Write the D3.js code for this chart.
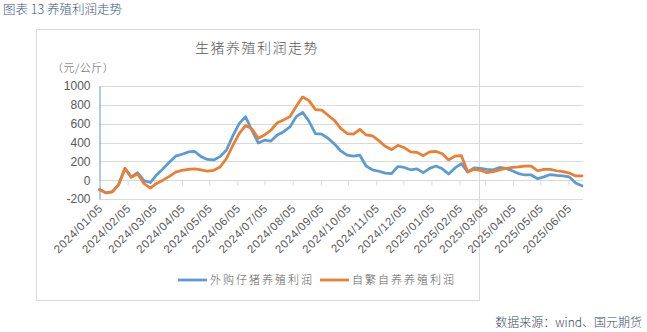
<!DOCTYPE html>
<html>
<head>
<meta charset="utf-8">
<script src="https://cdn.jsdelivr.net/npm/d3@7"></script>
<style>
  html, body { margin: 0; padding: 0; background: #fff; }
  svg { display: block; }
  text { font-family: "Liberation Sans", Arial, "Noto Sans CJK SC", sans-serif; }
  .cjk { font-family: "Noto Sans CJK SC", sans-serif; }
</style>
</head>
<body>
<svg id="chart" width="647" height="332"></svg>
<script>
// Weekly profit series (元/公斤), starting 2024/01/05
const startDate = "2024-01-05";
const purchasedPiglet = [
  -100, -135, -125, -50, 125, 35, 80, -5, -25, 55,
  120, 190, 255, 275, 300, 305, 250, 220, 215, 250,
  320, 470, 600, 675, 530, 395, 425, 415, 480, 515,
  565, 675, 720, 625, 495, 490, 445, 385, 310, 265,
  255, 265, 150, 110, 95, 75, 70, 145, 135, 110,
  120, 80, 125, 150, 120, 65, 130, 175, 85, 130,
  125, 115, 110, 135, 125, 100, 70, 55, 55, 15,
  35, 60, 50, 45, 35, -30, -60
];
const selfBred = [
  -100, -135, -125, -50, 125, 30, 65, -35, -85, -35,
  0, 40, 85, 105, 115, 120, 110, 95, 105, 140,
  230, 370, 495, 580, 545, 445, 480, 530, 610, 640,
  675, 785, 885, 845, 750, 745, 690, 635, 550, 495,
  490, 540, 480, 470, 420, 360, 325, 370, 345, 300,
  295, 260, 300, 305, 280, 215, 255, 260, 90, 115,
  105, 80, 90, 110, 125, 135, 140, 150, 150, 100,
  115, 115, 100, 90, 75, 45, 45
];
const seriesNames = ["外购仔猪养殖利润", "自繁自养养殖利润"];
const seriesColors = ["#5b9bd5", "#ed7d31"];
const yTicks = [-200, 0, 200, 400, 600, 800, 1000];
const xTickDates = [
  "2024-01-05", "2024-02-05", "2024-03-05", "2024-04-05", "2024-05-05", "2024-06-05",
  "2024-07-05", "2024-08-05", "2024-09-05", "2024-10-05", "2024-11-05", "2024-12-05",
  "2025-01-05", "2025-02-05", "2025-03-05", "2025-04-05", "2025-05-05", "2025-06-05"
];

const parse = d3.utcParse("%Y-%m-%d");
const fmt = d3.utcFormat("%Y/%m/%d");
const t0 = parse(startDate);
const dates = purchasedPiglet.map((_, i) => d3.utcDay.offset(t0, 7 * i));

const svg = d3.select("#chart");

// page heading
svg.append("text").attr("class", "cjk")
  .attr("x", 3).attr("y", 14)
  .attr("font-size", 12.5).attr("font-weight", 300).attr("fill", "#3b5578")
  .text("图表 13 养殖利润走势");

// chart frame
svg.append("rect")
  .attr("x", 36.5).attr("y", 29.5).attr("width", 443).attr("height", 271)
  .attr("fill", "#fff").attr("stroke", "#d9d9d9");

svg.append("text").attr("class", "cjk")
  .attr("x", 257).attr("y", 53).attr("text-anchor", "middle")
  .attr("font-size", 14).attr("font-weight", 300).attr("fill", "#595959").attr("letter-spacing", 1.5)
  .text("生猪养殖利润走势");

svg.append("text").attr("class", "cjk")
  .attr("x", 52).attr("y", 72)
  .attr("font-size", 11).attr("font-weight", 300).attr("fill", "#595959").attr("letter-spacing", 0.5)
  .text("（元/公斤）");

const x = d3.scaleUtc()
  .domain([t0, dates[dates.length - 1]])
  .range([99.5, 582]);
const y = d3.scaleLinear().domain([-200, 1000]).range([199, 86]);

// gridlines
svg.append("g")
  .selectAll("line").data(yTicks).join("line")
  .attr("x1", 99.5).attr("x2", 583)
  .attr("y1", d => Math.round(y(d)) + 0.5).attr("y2", d => Math.round(y(d)) + 0.5)
  .attr("stroke", "#d9d9d9").attr("stroke-width", 1);

// y axis labels
const yAxis = d3.axisLeft(y).tickValues(yTicks).tickSize(0).tickPadding(9)
  .tickFormat(d => String(d));
const gy = svg.append("g").attr("transform", "translate(99.5,0)").call(yAxis);
gy.select(".domain").attr("stroke", "#5b9bd5");
gy.selectAll("text").attr("font-size", 12).attr("fill", "#595959")
  .attr("font-family", "Liberation Sans, Arial, sans-serif");

// x axis: ticks on the zero line, labels at the bottom
const tickDates = xTickDates.map(parse);
const xAxis = d3.axisBottom(x).tickValues(tickDates).tickSize(5).tickFormat("");
const gx = svg.append("g").attr("transform", `translate(0,${Math.round(y(0)) + 0.5})`).call(xAxis);
gx.select(".domain").remove();
gx.selectAll(".tick line").attr("stroke", "#d9d9d9");

svg.append("g").selectAll("text").data(tickDates).join("text")
  .attr("transform", d => `translate(${x(d) + 4},${209}) rotate(-45)`)
  .attr("text-anchor", "end")
  .attr("font-size", 11.5).attr("letter-spacing", 0.6)
  .attr("fill", "#595959")
  .text(d => fmt(d));

// series lines
const line = d3.line().x((d, i) => x(dates[i])).y(d => y(d));
[purchasedPiglet, selfBred].forEach((vals, k) => {
  svg.append("path").datum(vals)
    .attr("d", line)
    .attr("fill", "none")
    .attr("stroke", seriesColors[k])
    .attr("stroke-width", 2.75)
    .attr("stroke-linejoin", "round")
    .attr("stroke-linecap", "round");
});

// legend
const legendX = [178, 320];
seriesNames.forEach((name, k) => {
  const g = svg.append("g").attr("transform", `translate(${legendX[k]},280)`);
  g.append("line").attr("x1", 0).attr("x2", 29).attr("y1", 0).attr("y2", 0)
    .attr("stroke", seriesColors[k]).attr("stroke-width", 2.75);
  g.append("text").attr("class", "cjk")
    .attr("x", 32).attr("y", 4)
    .attr("font-size", 11).attr("font-weight", 300).attr("fill", "#595959").attr("letter-spacing", 2)
    .text(name);
});

// source note
svg.append("text").attr("class", "cjk")
  .attr("x", 642).attr("y", 327).attr("text-anchor", "end")
  .attr("font-size", 12).attr("font-weight", 300).attr("fill", "#3b4a66")
  .text("数据来源：wind、国元期货");
</script>
</body>
</html>
